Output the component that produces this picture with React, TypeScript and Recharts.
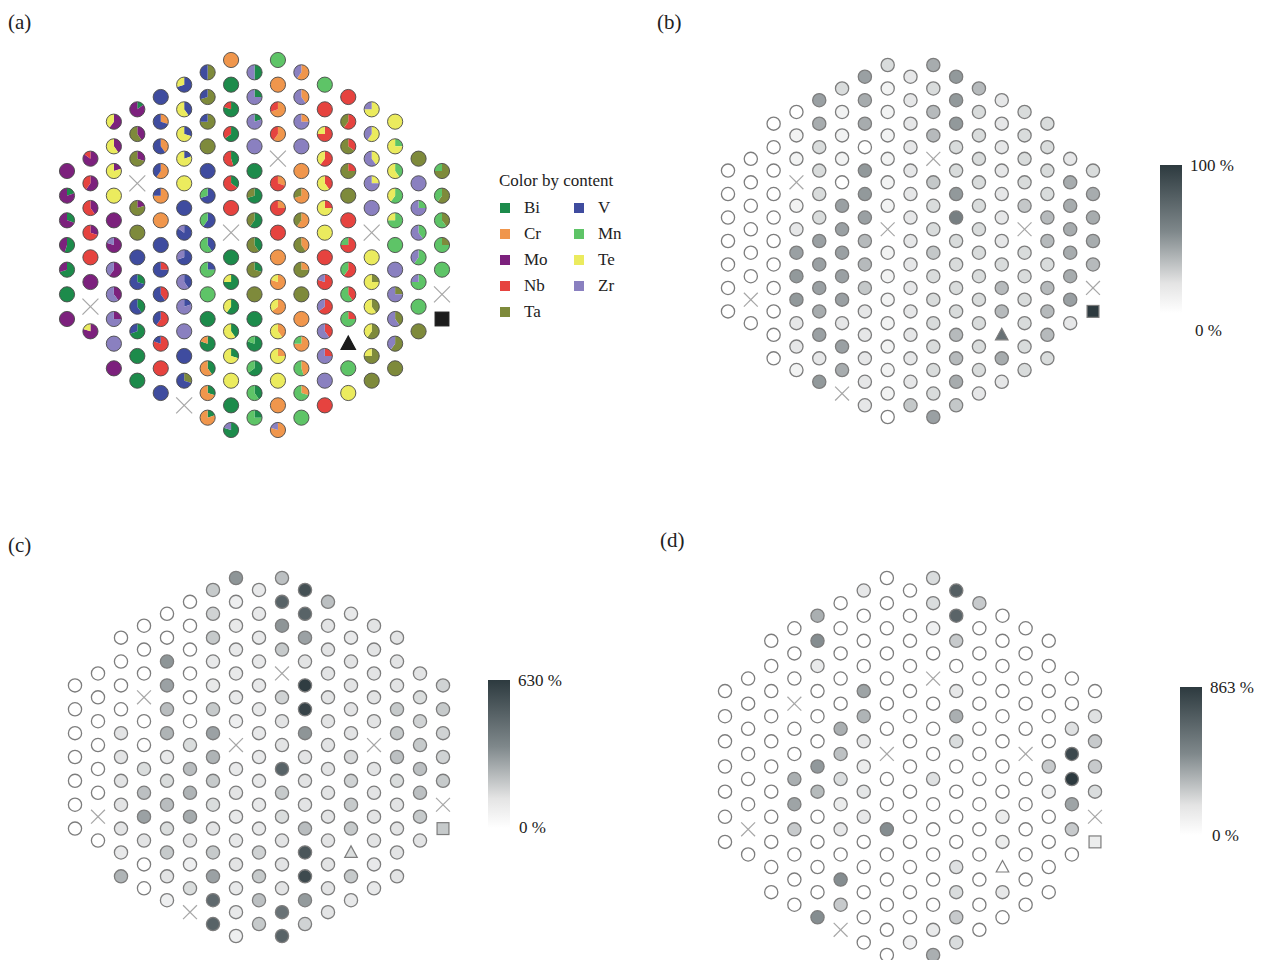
import React from 'react';
import { ScatterChart, Scatter, XAxis, YAxis } from 'recharts';

// ---- Lattice: 17 columns, sites every second half-row (k) ----
const colStart = [9, 8, 5, 4, 3, 2, 1, 0, 1, 0, 1, 2, 3, 4, 5, 8, 9];
const colCount = [7, 8, 11, 12, 13, 14, 15, 16, 15, 16, 15, 14, 13, 12, 11, 8, 7];

// Reference sites (column, index within column)
const crossSites: [number, number][] = [[1, 6], [3, 3], [5, 13], [7, 7], [9, 4], [13, 5], [16, 5]];
const triangleSite: [number, number] = [12, 10];
const squareSite: [number, number] = [16, 6];

// ---- Composition per site (element + atomic share) ----
const aCols: string[][] = [
  ['Mo', 'Mo80Bi20', 'Mo70Bi30', 'Bi55Mo45', 'Bi70Mo30', 'Bi', 'Mo'],
  ['Mo85Nb15', 'Mo60Nb40', 'Nb60Mo40', 'Nb70Mo30', 'Nb', 'Mo', '', 'Mo80Te20'],
  ['Mo60Te40', 'Te60Mo40', 'Te80Mo20', 'Te', 'Mo', 'Mo80Zr20', 'Mo60Zr40', 'Zr60Mo40', 'Zr75Mo25', 'Zr', 'Mo'],
  ['Mo85Bi15', 'Ta60Mo40', 'Ta70Mo30', '', 'Ta80Mo20', 'Ta', 'V', 'V70Bi30', 'V60Bi40', 'Bi70V30', 'Bi', 'Bi'],
  ['V', 'V70Cr30', 'V60Cr40', 'Cr60V40', 'Cr75V25', 'Cr', 'V', 'V75Nb25', 'V60Nb40', 'Nb60V40', 'Nb80V20', 'Nb', 'V'],
  ['V70Te30', 'Te60V40', 'Te70V30', 'Te80V20', 'Te', 'V', 'V85Zr15', 'V70Zr30', 'Zr60V40', 'Zr80V20', 'Zr', 'V', 'V70Ta30', ''],
  ['V50Ta50', 'Ta70V30', 'Ta75V25', 'Ta', 'V', 'V70Mn30', 'V60Mn40', 'Mn60V40', 'Mn75V25', 'Mn', 'Bi', 'Bi80Cr20', 'Cr60Bi40', 'Cr70Bi30', 'Cr80Bi20'],
  ['Cr', 'Bi', 'Bi80Nb20', 'Bi65Nb35', 'Nb55Bi45', 'Nb65Bi35', 'Nb', '', 'Bi', 'Bi75Te25', 'Bi60Te40', 'Te60Bi40', 'Te70Bi30', 'Te', 'Bi', 'Bi80Zr20'],
  ['Zr50Bi50', 'Zr75Bi25', 'Zr80Bi20', 'Zr', 'Bi', 'Bi70Ta30', 'Bi60Ta40', 'Ta60Bi40', 'Ta70Bi30', 'Ta', 'Bi', 'Bi80Mn20', 'Bi65Mn35', 'Mn60Bi40', 'Mn75Bi25'],
  ['Mn', 'Cr', 'Cr70Nb30', 'Cr60Nb40', '', 'Nb70Cr30', 'Nb75Cr25', 'Nb', 'Cr', 'Cr80Te20', 'Cr65Te35', 'Te60Cr40', 'Te75Cr25', 'Te', 'Cr', 'Cr80Zr20'],
  ['Cr60Zr40', 'Zr60Cr40', 'Zr75Cr25', 'Zr', 'Cr', 'Cr70Ta30', 'Cr60Ta40', 'Ta60Cr40', 'Ta75Cr25', 'Ta', 'Cr', 'Cr75Mn25', 'Mn55Cr45', 'Mn70Cr30', 'Mn'],
  ['Mn', 'Nb', 'Nb75Te25', 'Nb60Te40', 'Te60Nb40', 'Te75Nb25', 'Te', 'Nb', 'Nb80Zr20', 'Nb65Zr35', 'Zr60Nb40', 'Zr75Nb25', 'Zr', 'Nb'],
  ['Nb', 'Nb60Ta40', 'Ta65Nb35', 'Ta75Nb25', 'Ta', 'Nb', 'Nb75Mn25', 'Nb60Mn40', 'Mn60Nb40', 'Mn75Nb25', '', 'Mn', 'Te'],
  ['Te75Zr25', 'Te60Zr40', 'Zr60Te40', 'Zr75Te25', 'Zr', '', 'Te', 'Te75Ta25', 'Te60Ta40', 'Ta60Te40', 'Ta75Te25', 'Ta'],
  ['Te', 'Te75Mn25', 'Te60Mn40', 'Mn60Te40', 'Mn75Te25', 'Mn', 'Zr', 'Zr75Ta25', 'Zr60Ta40', 'Ta60Zr40', 'Ta'],
  ['Ta', 'Zr', 'Zr75Mn25', 'Zr60Mn40', 'Mn60Zr40', 'Mn75Zr25', 'Mn', 'Ta'],
  ['Ta75Mn25', 'Ta60Mn40', 'Mn60Ta40', 'Mn75Ta25', 'Mn', '', ''],
];

// ---- Relative values (%) per site, panels b, c, d ----
const bCols: (number | null)[][] = [
  [0, 0, 0, 0, 0, 0, 0],
  [0, 0, 0, 0, 0, 0, null, 0],
  [0, 0, 0, 0, 0, 0, 0, 0, 0, 0, 0],
  [0, 6, 6, null, 6, 12, 48, 52, 52, 12, 12, 6],
  [48, 42, 18, 18, 18, 18, 48, 48, 48, 42, 48, 12, 52],
  [18, 6, 6, 6, 0, 48, 48, 48, 48, 48, 12, 48, 42, null],
  [48, 42, 42, 0, 52, 52, 48, 35, 35, 28, 12, 12, 12, 12, 12],
  [18, 6, 6, 6, 6, 6, 6, null, 6, 6, 6, 6, 6, 6, 6, 0],
  [12, 12, 12, 12, 12, 12, 12, 12, 12, 12, 12, 12, 12, 12, 28],
  [42, 18, 35, 35, null, 28, 18, 18, 28, 18, 18, 18, 18, 18, 18, 48],
  [52, 52, 52, 18, 18, 52, 65, 18, 18, 18, 18, 35, 35, 42, 28],
  [35, 18, 18, 18, 18, 18, 18, 18, 18, 18, 18, 18, 18, 12],
  [12, 12, 12, 12, 12, 12, 12, 18, 35, 35, 72, 42, 12],
  [18, 18, 18, 18, 28, null, 18, 18, 18, 18, 18, 18],
  [18, 18, 18, 18, 35, 35, 18, 35, 35, 35, 18],
  [12, 42, 42, 42, 42, 42, 48, 12],
  [18, 42, 42, 42, 35, null, 100],
];

const cCols: (number | null)[][] = [
  [0, 0, 0, 0, 0, 0, 0],
  [0, 0, 0, 0, 0, 0, null, 0],
  [0, 0, 0, 0, 85, 85, 85, 85, 85, 70, 240],
  [0, 0, 0, null, 0, 0, 110, 200, 300, 85, 0, 0],
  [0, 0, 340, 300, 210, 240, 70, 110, 210, 110, 170, 85, 50],
  [0, 0, 0, 0, 0, 0, 110, 210, 240, 270, 85, 50, 110, null],
  [170, 140, 170, 70, 70, 170, 300, 240, 170, 110, 85, 170, 300, 480, 500],
  [340, 50, 70, 70, 70, 70, 50, null, 70, 85, 70, 70, 85, 70, 70, 50],
  [70, 70, 70, 70, 70, 70, 70, 70, 70, 70, 70, 140, 170, 200, 170],
  [200, 500, 340, 170, null, 140, 85, 85, 500, 170, 110, 85, 85, 85, 450, 500],
  [560, 500, 300, 85, 620, 600, 340, 85, 85, 85, 210, 540, 580, 320, 140],
  [200, 85, 85, 85, 85, 85, 85, 85, 85, 85, 85, 85, 85, 85],
  [70, 70, 85, 85, 85, 85, 120, 140, 170, 170, 110, 170, 70],
  [85, 85, 85, 85, 85, null, 85, 85, 85, 85, 70, 70],
  [85, 85, 85, 170, 170, 200, 110, 85, 85, 85, 85],
  [85, 110, 140, 170, 200, 200, 170, 85],
  [140, 170, 140, 140, 170, null, 170],
];

const dCols: (number | null)[][] = [
  [0, 0, 0, 0, 0, 0, 0],
  [0, 0, 0, 0, 0, 0, null, 0],
  [0, 0, 0, 0, 0, 0, 0, 0, 0, 0, 0],
  [0, 0, 0, null, 0, 0, 350, 400, 230, 0, 0, 0],
  [350, 500, 90, 0, 0, 0, 450, 300, 0, 0, 0, 0, 500],
  [0, 0, 0, 0, 0, 350, 270, 150, 80, 100, 0, 500, 230, null],
  [100, 0, 0, 0, 400, 330, 100, 80, 110, 100, 0, 0, 0, 0, 0],
  [0, 0, 0, 0, 0, 0, 0, null, 0, 0, 500, 0, 0, 0, 0, 0],
  [0, 0, 0, 0, 0, 0, 0, 0, 0, 0, 0, 0, 0, 0, 60],
  [150, 150, 60, 0, null, 0, 0, 0, 130, 0, 0, 0, 0, 0, 90, 350],
  [700, 680, 230, 0, 100, 350, 150, 0, 0, 0, 0, 130, 150, 230, 150],
  [230, 0, 0, 0, 0, 0, 0, 0, 0, 0, 0, 0, 0, 0],
  [0, 0, 0, 0, 0, 0, 0, 0, 80, 80, 0, 100, 0],
  [0, 0, 0, 0, 0, null, 0, 0, 0, 0, 0, 0],
  [0, 0, 0, 0, 0, 230, 60, 0, 0, 0, 0],
  [0, 0, 130, 800, 863, 400, 230, 0],
  [0, 130, 230, 230, 150, null, 80],
];

const scaleMax = { b: 100, c: 630, d: 863 };

const legendLeft = ['Bi', 'Cr', 'Mo', 'Nb', 'Ta'];
const legendRight = ['V', 'Mn', 'Te', 'Zr'];
const ELEMENT_ORDER = [...legendLeft, ...legendRight];

const ELEMENT_COLORS: Record<string, string> = {
  Bi: '#1d8b4b',
  Cr: '#f0964c',
  Mo: '#7c217d',
  Nb: '#e6433f',
  Ta: '#7e8a3b',
  V: '#3f4c9f',
  Mn: '#5ec467',
  Te: '#ebeb5e',
  Zr: '#8a80c0',
};

const SERIF = '"Liberation Serif", "DejaVu Serif", serif';
const DARK = [45, 58, 63];

type Site = { x: number; y: number; kind: 'o' | 'x' | 'tri' | 'sq'; v: number; parts: [string, number][] };

const same = (a: [number, number], c: number, i: number) => a[0] === c && a[1] === i;

function parseComposition(s: string): [string, number][] {
  const out: [string, number][] = [];
  const re = /([A-Z][a-z]?)(\d*)/g;
  let m: RegExpExecArray | null;
  while ((m = re.exec(s)) !== null) {
    if (!m[1]) break;
    out.push([m[1], m[2] ? Number(m[2]) : 100]);
  }
  // slices are stacked in legend order
  return out.sort((p, q) => ELEMENT_ORDER.indexOf(p[0]) - ELEMENT_ORDER.indexOf(q[0]));
}

function buildSites(values: (number | string | null)[][]): Site[] {
  const sites: Site[] = [];
  for (let c = 0; c < colStart.length; c++) {
    for (let i = 0; i < colCount[c]; i++) {
      let kind: Site['kind'] = 'o';
      if (crossSites.some((s) => same(s, c, i))) kind = 'x';
      else if (same(triangleSite, c, i)) kind = 'tri';
      else if (same(squareSite, c, i)) kind = 'sq';
      const raw = values[c][i];
      sites.push({
        x: c,
        y: colStart[c] + 2 * i,
        kind,
        v: typeof raw === 'number' ? raw : 0,
        parts: typeof raw === 'string' ? parseComposition(raw) : [],
      });
    }
  }
  return sites;
}

function grayFill(v: number, max: number) {
  const t = Math.max(0, Math.min(1, v / max));
  const ch = DARK.map((d) => Math.round(255 + (d - 255) * t));
  return `rgb(${ch[0]},${ch[1]},${ch[2]})`;
}

type PanelCfg = {
  id: string;
  x0: number;
  x1: number;
  y0: number;
  y1: number;
  r: number;
  max?: number;
  pie?: boolean;
  data: Site[];
};

const panels: PanelCfg[] = [
  { id: 'a', x0: 67, x1: 442, y0: 60, y1: 430, r: 7.6, pie: true, data: buildSites(aCols) },
  { id: 'b', x0: 728, x1: 1093, y0: 65, y1: 417, r: 6.6, max: scaleMax.b, data: buildSites(bCols) },
  { id: 'c', x0: 75, x1: 443, y0: 578, y1: 936, r: 6.6, max: scaleMax.c, data: buildSites(cCols) },
  { id: 'd', x0: 725, x1: 1095, y0: 578, y1: 955, r: 6.6, max: scaleMax.d, data: buildSites(dCols) },
];

function pieGlyph(cx: number, cy: number, r: number, parts: [string, number][]) {
  const total = parts.reduce((s, p) => s + p[1], 0) || 1;
  if (parts.length <= 1) {
    const col = parts.length ? ELEMENT_COLORS[parts[0][0]] : '#fff';
    return (
      <g>
        <circle cx={cx} cy={cy} r={r} fill={col} stroke="#4a4a4a" strokeWidth={0.9} />
      </g>
    );
  }
  let acc = 0;
  // angles measured clockwise from 12 o'clock
  const pt = (a: number) => [cx + r * Math.sin(a), cy - r * Math.cos(a)];
  const paths = parts.map(([el, val], idx) => {
    const a0 = (acc / total) * Math.PI * 2;
    acc += val;
    const a1 = (acc / total) * Math.PI * 2;
    const [x0, y0] = pt(a0);
    const [x1, y1] = pt(a1);
    const large = a1 - a0 > Math.PI ? 1 : 0;
    const d = `M ${cx} ${cy} L ${x0} ${y0} A ${r} ${r} 0 ${large} 1 ${x1} ${y1} Z`;
    return <path key={idx} d={d} fill={ELEMENT_COLORS[el]} stroke="none" />;
  });
  return (
    <g>
      {paths}
      <circle cx={cx} cy={cy} r={r} fill="none" stroke="#4a4a4a" strokeWidth={0.9} />
    </g>
  );
}

const makeShape = (cfg: PanelCfg) => (props: any) => {
  const { cx, cy, payload } = props;
  if (cx == null || cy == null || !payload) return <g />;
  const r = cfg.r;
  const site = payload as Site;
  if (site.kind === 'x') {
    const s = r * 1.05;
    return (
      <g>
        <line x1={cx - s} y1={cy - s} x2={cx + s} y2={cy + s} stroke="#a6a6a6" strokeWidth={1.2} />
        <line x1={cx - s} y1={cy + s} x2={cx + s} y2={cy - s} stroke="#a6a6a6" strokeWidth={1.2} />
      </g>
    );
  }
  const fill = cfg.pie ? '#1c1c1c' : grayFill(site.v, cfg.max || 1);
  const stroke = cfg.pie ? '#1c1c1c' : '#7d7d7d';
  if (site.kind === 'tri') {
    const pts = `${cx},${cy - r * 1.0} ${cx - r * 0.95},${cy + r * 0.75} ${cx + r * 0.95},${cy + r * 0.75}`;
    return <polygon points={pts} fill={fill} stroke={stroke} strokeWidth={1.2} />;
  }
  if (site.kind === 'sq') {
    const h = r * 0.9;
    return <rect x={cx - h} y={cy - h} width={2 * h} height={2 * h} fill={fill} stroke={stroke} strokeWidth={1.2} />;
  }
  if (cfg.pie) return pieGlyph(cx, cy, r, site.parts);
  return <circle cx={cx} cy={cy} r={r} fill={fill} stroke={stroke} strokeWidth={1.3} />;
};

function Panel({ cfg }: { cfg: PanelCfg }) {
  const pad = 20;
  const w = cfg.x1 - cfg.x0 + 2 * pad;
  const h = cfg.y1 - cfg.y0 + 2 * pad;
  return (
    <div style={{ position: 'absolute', left: cfg.x0 - pad, top: cfg.y0 - pad, width: w, height: h }}>
      <ScatterChart width={w} height={h} margin={{ top: pad, right: pad, bottom: pad, left: pad }}>
        <XAxis type="number" dataKey="x" domain={[0, 16]} hide />
        <YAxis type="number" dataKey="y" domain={[0, 30]} reversed hide />
        <Scatter data={cfg.data} shape={makeShape(cfg)} isAnimationActive={false} />
      </ScatterChart>
    </div>
  );
}

function ColorBar({ x, y, w, h, top, id }: { x: number; y: number; w: number; h: number; top: string; id: string }) {
  return (
    <g>
      <defs>
        <linearGradient id={id} x1="0" y1="0" x2="0" y2="1">
          <stop offset="0" stopColor="#2d3a3f" />
          <stop offset="0.45" stopColor="#7f888b" />
          <stop offset="0.8" stopColor="#e4e4e4" />
          <stop offset="1" stopColor="#ffffff" />
        </linearGradient>
      </defs>
      <rect x={x} y={y} width={w} height={h} fill={`url(#${id})`} />
      <text x={x + w + 8} y={y + 6} fontSize={17} fill="#222" fontFamily={SERIF}>
        {top}
      </text>
    </g>
  );
}

export default function App() {
  return (
    <div style={{ position: 'absolute', left: 0, top: 0, width: 1261, height: 960, background: '#fff', overflow: 'hidden' }}>
      {panels.map((p) => (
        <Panel key={p.id} cfg={p} />
      ))}
      <svg width={1261} height={960} style={{ position: 'absolute', left: 0, top: 0, pointerEvents: 'none' }}>
        <g fontFamily={SERIF} fill="#222">
          <text x={8} y={29} fontSize={21}>(a)</text>
          <text x={657} y={29} fontSize={21}>(b)</text>
          <text x={8} y={552} fontSize={21}>(c)</text>
          <text x={660} y={547} fontSize={21}>(d)</text>

          <text x={499} y={186} fontSize={17}>Color by content</text>
          {legendLeft.map((el, i) => (
            <g key={el}>
              <rect x={500} y={203 + i * 26} width={10} height={10} fill={ELEMENT_COLORS[el]} />
              <text x={524} y={213 + i * 26} fontSize={17}>{el}</text>
            </g>
          ))}
          {legendRight.map((el, i) => (
            <g key={el}>
              <rect x={574} y={203 + i * 26} width={10} height={10} fill={ELEMENT_COLORS[el]} />
              <text x={598} y={213 + i * 26} fontSize={17}>{el}</text>
            </g>
          ))}

          <ColorBar id="gb" x={1160} y={165} w={22} h={148} top="100 %" />
          <text x={1195} y={336} fontSize={17}>0 %</text>
          <ColorBar id="gc" x={488} y={680} w={22} h={148} top="630 %" />
          <text x={519} y={833} fontSize={17}>0 %</text>
          <ColorBar id="gd" x={1180} y={687} w={22} h={148} top="863 %" />
          <text x={1212} y={841} fontSize={17}>0 %</text>
        </g>
      </svg>
    </div>
  );
}
